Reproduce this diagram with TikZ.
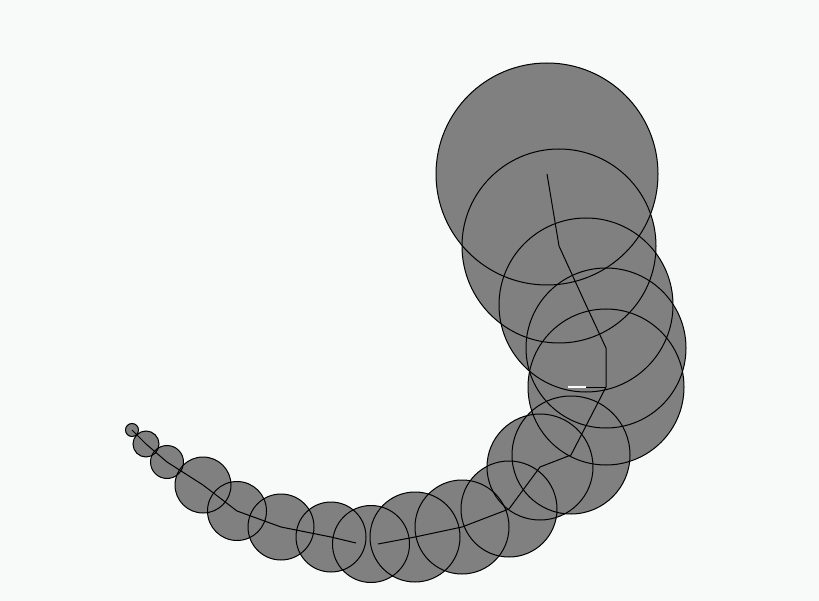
\documentclass[tikz,border=0pt]{standalone}
\usepackage{xcolor}
\usetikzlibrary{backgrounds}
\pgfdeclarelayer{background}
\pgfsetlayers{background,main}
\definecolor{paper}{HTML}{F7FAF8}
\definecolor{bodygray}{HTML}{808080}
\definecolor{ink}{HTML}{000000}
\tikzset{
  segfill/.style={
    circle,
    fill=bodygray,
    draw=none,
    inner sep=0pt
  },
  segrim/.style={
    circle,
    draw=ink,
    line width=1pt,
    inner sep=0pt
  },
  spine/.style={
    draw=ink,
    line width=1pt,
    line join=round
  },
  spinegap/.style={
    draw=paper,
    line width=1.2pt
  }
}

\begin{document}
\begin{tikzpicture}[x=1pt, y=-1pt]

% ---------------------------------------------------------------------------
% 0. Canvas
% ---------------------------------------------------------------------------
\useasboundingbox (0,0) rectangle (819,601);

% ---------------------------------------------------------------------------
% 1. Body segments, tail to head (fills first, rims on top)
% ---------------------------------------------------------------------------
\begin{pgfonlayer}{background}
\fill[paper] (0,0) rectangle (819,601);
\foreach \n/\x/\y/\r in {1/132/430/6.5, 2/146/444/13, 3/167/462/16.5,
    4/203/485/28, 5/237/511/29.5, 6/281/527/33, 7/331/537/35,
    8/371/544/38.5, 9/415/537/45, 10/462/527/47, 11/509/509/48,
    12/540/467/53, 13/571/455/59, 14/606/387/78, 15/606/348/80,
    16/586/305/87, 17/559/246/97, 18/547/174/111}
  \node[segfill, minimum size=2*\r pt] (c\n) at (\x,\y) {};
\end{pgfonlayer}

\foreach \n/\r in {1/6.5, 2/13, 3/16.5, 4/28, 5/29.5, 6/33, 7/35, 8/38.5,
    9/45, 10/47, 11/48, 12/53, 13/59, 14/78, 15/80, 16/87, 17/97, 18/111}
  \node[segrim, minimum size=2*\r pt] (r\n) at (c\n.center) {};

% ---------------------------------------------------------------------------
% 2. Spine through the segment centres
% ---------------------------------------------------------------------------
\coordinate (gapL) at (356,543);
\coordinate (gapR) at (378,544);
\draw[spine] (c1.center) -- (c2.center) -- (c3.center) -- (c4.center)
  -- (c5.center) -- (c6.center) -- (c7.center) -- (gapL);
\draw[spine] (gapR) -- (c9.center) -- (c10.center) -- (c11.center)
  -- (c12.center) -- (c13.center) -- (c14.center) -- (c15.center)
  -- (c16.center) -- (c17.center) -- (c18.center);

% Short stub left of segment 14, partly blanked.
\coordinate (stubMid) at (586,387);
\coordinate (stubEnd) at (568,387);
\draw[spine] (c14.center) -- (stubMid);
\draw[spinegap] (stubMid) -- (stubEnd);

\end{tikzpicture}
\end{document}
